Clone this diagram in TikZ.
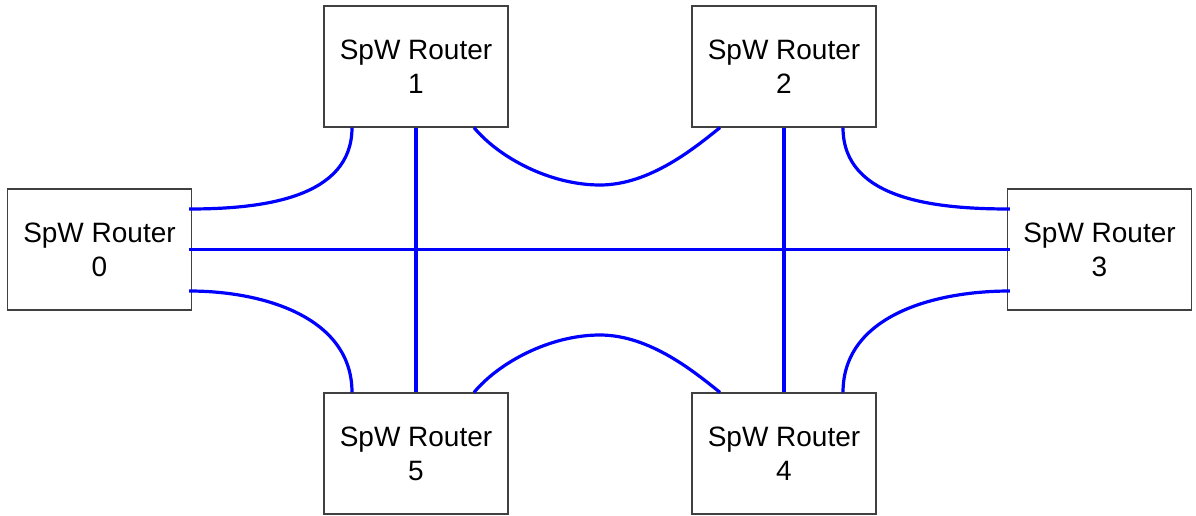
\documentclass[tikz,border=0pt]{standalone}
\usepackage{fontspec}
\setmainfont{Liberation Sans}
\begin{document}
\begin{tikzpicture}[x=1pt,y=-1pt,
  router/.style={draw=black!75,line width=1.2pt,fill=white,minimum width=184pt,minimum height=121pt,inner sep=0pt,align=center,font=\fontsize{28}{34}\selectfont},
  link/.style={draw=blue,line width=3.2pt}]
\useasboundingbox (0,0) rectangle (1196,516);
\node[router] (r1) at (416,66.5) {SpW Router\\1};
\node[router] (r2) at (784,66.5) {SpW Router\\2};
\node[router] (r0) at (99.5,249.5) {SpW Router\\0};
\node[router] (r3) at (1099.5,249.5) {SpW Router\\3};
\node[router] (r5) at (416,453.5) {SpW Router\\5};
\node[router] (r4) at (784,453.5) {SpW Router\\4};
% straight links
\draw[link] (r1.south) -- (r5.north);
\draw[link] (r2.south) -- (r4.north);
\draw[link] ([xshift=-3pt]r0.east) -- ([xshift=3pt]r3.west);
% curved links
\draw[link] ([xshift=-3pt,yshift=40.5pt]r0.east) to[out=0,in=-90] ([xshift=-64pt]r1.south);
\draw[link] ([xshift=-3pt,yshift=-41.5pt]r0.east) to[out=0,in=90] ([xshift=-64pt]r5.north);
\draw[link] ([xshift=3pt,yshift=40.5pt]r3.west) to[out=180,in=-90] ([xshift=59pt]r2.south);
\draw[link] ([xshift=3pt,yshift=-41.5pt]r3.west) to[out=180,in=90] ([xshift=59pt]r4.north);
\draw[link] ([xshift=58pt]r1.south) .. controls +(25,30) and +(-50,0) .. (600,185) .. controls +(50,0) and +(-25,20) .. ([xshift=-64pt]r2.south);
\draw[link] ([xshift=58pt]r5.north) .. controls +(25,-30) and +(-50,0) .. (600,335) .. controls +(50,0) and +(-25,-20) .. ([xshift=-64pt]r4.north);
\end{tikzpicture}
\end{document}
